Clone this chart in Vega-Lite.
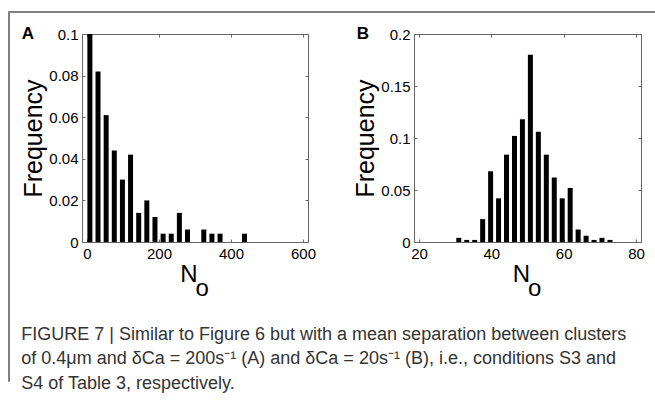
{
  "$schema": "https://vega.github.io/schema/vega-lite/v6.json",
  "padding": {"left": 7, "top": 10, "right": 0, "bottom": 0},
  "config": {
    "font": "Liberation Sans",
    "view": {"stroke": "#666", "strokeWidth": 1},
    "axis": {
      "grid": false, "domain": false, "labelColor": "#000", "labelFontSize": 15,
      "labelFont": "Liberation Sans", "titleFont": "Liberation Sans", "titleFontWeight": "normal",
      "titleColor": "#000", "tickColor": "#666", "tickSize": -3, "labelPadding": 7
    }
  },
  "bounds": "flush",
  "spacing": 0,
  "hconcat": [
    {
      "width": 1, "height": 370,
      "view": {"stroke": "#808080", "strokeWidth": 1},
      "data": {"values": [{}]},
      "mark": {"type": "rule", "opacity": 0},
      "encoding": {}
    },
    {
      "bounds": "flush",
      "spacing": 22,
      "vconcat": [
        {
          "width": 646, "height": 1,
          "view": {"stroke": "#808080", "strokeWidth": 1},
          "data": {"values": [{}]},
          "mark": {"type": "rule", "opacity": 0},
          "encoding": {}
        },
        {
          "bounds": "flush",
          "spacing": 0,
          "hconcat": [
            {
              "width": 73, "height": 1,
              "view": {"stroke": null},
              "data": {"values": [{}]},
              "mark": {"type": "rule", "opacity": 0},
              "encoding": {}
            },
            {
              "bounds": "flush",
              "spacing": 106,
              "title": {
                "text": [
                  "FIGURE 7 | Similar to Figure 6 but with a mean separation between clusters",
                  "of 0.4μm and δCa = 200s⁻¹ (A) and δCa = 20s⁻¹ (B), i.e., conditions S3 and",
                  "S4 of Table 3, respectively."
                ],
                "orient": "bottom", "anchor": "start", "frame": "bounds",
                "font": "Liberation Sans", "fontSize": 18, "fontWeight": "normal",
                "color": "#333", "lineHeight": 24.5, "offset": 25
              },
              "hconcat": [
                {
                  "width": 226, "height": 208,
                  "view": {"stroke": "#666", "strokeWidth": 1},
                  "title": {"text": "A", "anchor": "start", "frame": "bounds", "fontSize": 17, "fontWeight": "bold", "color": "#000", "dy": 20, "dx": 0},
                  "data": {"values": [
                    {"No": 8, "freq": 0.1},
                    {"No": 30.6, "freq": 0.082},
                    {"No": 53.2, "freq": 0.061},
                    {"No": 75.8, "freq": 0.044},
                    {"No": 98.4, "freq": 0.03},
                    {"No": 121, "freq": 0.042},
                    {"No": 143.6, "freq": 0.014},
                    {"No": 166.2, "freq": 0.02},
                    {"No": 188.8, "freq": 0.012},
                    {"No": 211.4, "freq": 0.004},
                    {"No": 234, "freq": 0.004},
                    {"No": 256.6, "freq": 0.014},
                    {"No": 279.2, "freq": 0.006},
                    {"No": 324.4, "freq": 0.006},
                    {"No": 347, "freq": 0.004},
                    {"No": 369.6, "freq": 0.004},
                    {"No": 437.4, "freq": 0.004}
                  ]},
                  "layer": [
                    {
                      "mark": {"type": "bar", "color": "#000", "size": 5},
                      "encoding": {
                        "x": {"field": "No", "type": "quantitative", "scale": {"domain": [0, 600], "nice": false, "zero": false},
                          "axis": {"orient": "bottom", "values": [0, 200, 400, 600], "title": ["N\u00a0\u00a0\u200b", "\u200b\u00a0\u00a0o"], "titleFontSize": 24, "titleLineHeight": 14, "titlePadding": 1}},
                        "y": {"field": "freq", "type": "quantitative", "scale": {"domain": [0, 0.1], "nice": false},
                          "axis": {"orient": "left", "values": [0, 0.02, 0.04, 0.06, 0.08, 0.1], "format": ".2~f", "title": "Frequency", "titleFontSize": 25, "titlePadding": 2}}
                      }
                    },
                    {
                      "mark": {"type": "bar", "opacity": 0, "size": 5},
                      "encoding": {
                        "x": {"field": "No", "type": "quantitative", "axis": {"orient": "top", "values": [0, 200, 400, 600], "labels": false, "title": null}},
                        "y": {"field": "freq", "type": "quantitative", "axis": {"orient": "right", "values": [0, 0.02, 0.04, 0.06, 0.08, 0.1], "labels": false, "title": null}}
                      }
                    }
                  ],
                  "resolve": {"axis": {"x": "independent", "y": "independent"}}
                },
                {
                  "width": 227, "height": 208,
                  "view": {"stroke": "#666", "strokeWidth": 1},
                  "title": {"text": "B", "anchor": "start", "frame": "bounds", "fontSize": 17, "fontWeight": "bold", "color": "#000", "dy": 20, "dx": 3},
                  "data": {"values": [
                    {"No": 31, "freq": 0.004},
                    {"No": 33.2, "freq": 0.002},
                    {"No": 35.4, "freq": 0.002},
                    {"No": 37.6, "freq": 0.022},
                    {"No": 39.8, "freq": 0.068},
                    {"No": 42, "freq": 0.042},
                    {"No": 44.2, "freq": 0.084},
                    {"No": 46.4, "freq": 0.102},
                    {"No": 48.6, "freq": 0.118},
                    {"No": 50.8, "freq": 0.18},
                    {"No": 53, "freq": 0.106},
                    {"No": 55.2, "freq": 0.084},
                    {"No": 57.4, "freq": 0.062},
                    {"No": 59.6, "freq": 0.042},
                    {"No": 61.8, "freq": 0.052},
                    {"No": 64, "freq": 0.012},
                    {"No": 66.2, "freq": 0.006},
                    {"No": 68.4, "freq": 0.002},
                    {"No": 70.6, "freq": 0.004},
                    {"No": 72.8, "freq": 0.002}
                  ]},
                  "layer": [
                    {
                      "mark": {"type": "bar", "color": "#000", "size": 5},
                      "encoding": {
                        "x": {"field": "No", "type": "quantitative", "scale": {"domain": [20, 80], "nice": false, "zero": false},
                          "axis": {"orient": "bottom", "values": [20, 40, 60, 80], "title": ["N\u00a0\u00a0\u200b", "\u200b\u00a0\u00a0o"], "titleFontSize": 24, "titleLineHeight": 14, "titlePadding": 1}},
                        "y": {"field": "freq", "type": "quantitative", "scale": {"domain": [0, 0.2], "nice": false},
                          "axis": {"orient": "left", "values": [0, 0.05, 0.1, 0.15, 0.2], "format": ".2~f", "title": "Frequency", "titleFontSize": 25, "titlePadding": 2}}
                      }
                    },
                    {
                      "mark": {"type": "bar", "opacity": 0, "size": 5},
                      "encoding": {
                        "x": {"field": "No", "type": "quantitative", "axis": {"orient": "top", "values": [20, 40, 60, 80], "labels": false, "title": null}},
                        "y": {"field": "freq", "type": "quantitative", "axis": {"orient": "right", "values": [0, 0.05, 0.1, 0.15, 0.2], "labels": false, "title": null}}
                      }
                    }
                  ],
                  "resolve": {"axis": {"x": "independent", "y": "independent"}}
                }
              ]
            }
          ]
        }
      ]
    }
  ]
}
